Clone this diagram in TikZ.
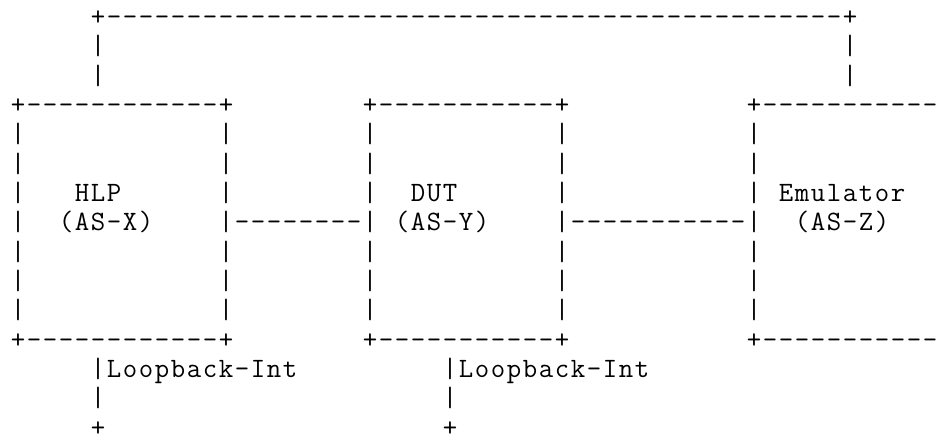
\documentclass[tikz,border=0pt]{standalone}
\usepackage{fontspec}
\newcommand\gridtext[1]{\gridloop#1\relax}
\newcommand\gridloop[1]{\ifx\relax#1\else\makebox[16pt][c]{#1}\expandafter\gridloop\fi}
\newcommand\dashrun[1]{\foreach \i in {1,...,#1}{\makebox[16pt][c]{-}}}
\tikzset{Ascii Text/.style={anchor=base west, inner sep=0pt, outer sep=0pt,
  font=\ttfamily\fontsize{28}{29.333}\selectfont}}

\begin{document}
\begin{tikzpicture}[x=16pt,y=-29.333pt]
	\useasboundingbox (0,0) rectangle (58.875,14.763);
	\begin{scope}[shift={(0.625,0.87)}]
		\node[Ascii Text] (bus) at (5,0) {\gridtext{+}\dashrun{46}\gridtext{+}};
		\foreach \y in {1,2}{%
			\node[Ascii Text] (busl\y) at (5,\y) {\gridtext{|}};
			\node[Ascii Text] (busr\y) at (52,\y) {\gridtext{|}};
		}
		\foreach \y in {3,11}{%
			\node[Ascii Text] (hlpedge\y) at (0,\y) {\gridtext{+}\dashrun{12}\gridtext{+}};
			\node[Ascii Text] (dutedge\y) at (22,\y) {\gridtext{+}\dashrun{11}\gridtext{+}};
			\node[Ascii Text] (emuedge\y) at (46,\y) {\gridtext{+}\dashrun{11}};
		}
		\foreach \x in {0,13,22,34,46}{%
			\foreach \y in {4,...,10}{%
				\node[Ascii Text] (side\x-\y) at (\x,\y) {\gridtext{|}};
			}
		}
		
		\node[Ascii Text] (hlp) at (4,6) {\gridtext{HLP}};
		\node[Ascii Text] (hlpas) at (3,7) {\gridtext{(AS-X)}};
		\node[Ascii Text] (dut) at (25,6) {\gridtext{DUT}};
		\node[Ascii Text] (dutas) at (24,7) {\gridtext{(AS-Y)}};
		\node[Ascii Text] (emu) at (48,6) {\gridtext{Emulator}};
		\node[Ascii Text] (emuas) at (49,7) {\gridtext{(AS-Z)}};
		\node[Ascii Text] (linkhd) at (14,7) {\dashrun{8}};
		\node[Ascii Text] (linkde) at (35,7) {\dashrun{11}};
		
		\foreach \x/\n in {5/x,27/y}{%
			\node[Ascii Text] (loop\n) at (\x,12) {\gridtext{|}};
			\node[Ascii Text] (looptext\n) at (\x+1,12) {\gridtext{Loopback-Int}};
			\node[Ascii Text] (loopbar\n) at (\x,13) {\gridtext{|}};
			\node[Ascii Text] (loopend\n) at (\x,14) {\gridtext{+}};
		}
	\end{scope}
\end{tikzpicture}
\end{document}
